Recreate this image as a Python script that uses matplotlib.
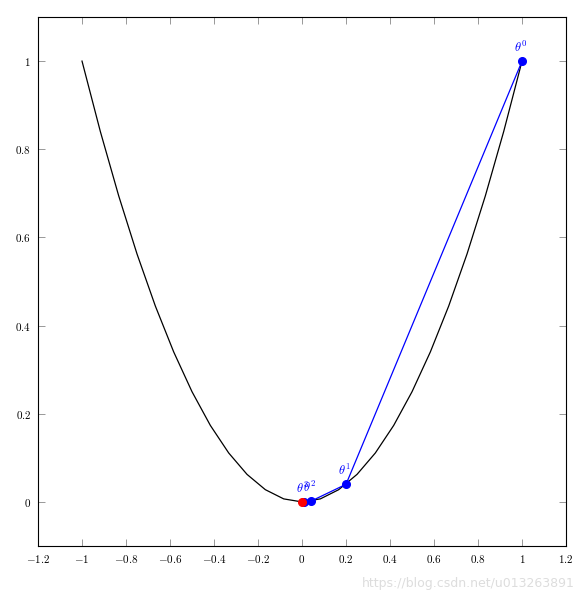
import matplotlib
matplotlib.use("Agg")
import matplotlib.pyplot as plt

plt.rcParams['mathtext.fontset'] = 'cm'
plt.rcParams['font.family'] = ['DejaVu Serif']

# parabola samples (pgfplots-style, 25 samples)
curve_x = [-1.0, -0.9167, -0.8333, -0.75, -0.6667, -0.5833, -0.5, -0.4167, -0.3333,
           -0.25, -0.1667, -0.0833, 0.0, 0.0833, 0.1667, 0.25, 0.3333, 0.4167, 0.5,
           0.5833, 0.6667, 0.75, 0.8333, 0.9167, 1.0]
curve_y = [1.0, 0.8403, 0.6944, 0.5625, 0.4444, 0.3403, 0.25, 0.1736, 0.1111,
           0.0625, 0.0278, 0.0069, 0.0, 0.0069, 0.0278, 0.0625, 0.1111, 0.1736, 0.25,
           0.3403, 0.4444, 0.5625, 0.6944, 0.8403, 1.0]

# iterates
iter_x = [1.0, 0.2, 0.04, 0.008]
iter_y = [1.0, 0.04, 0.0016, 0.000064]
iter_labels = [r'$\theta^0$', r'$\theta^1$', r'$\theta^2$', r'$\theta^3$']
opt_x = [0.0]
opt_y = [0.0]

xticks = [-1.2, -1, -0.8, -0.6, -0.4, -0.2, 0, 0.2, 0.4, 0.6, 0.8, 1, 1.2]
yticks = [0, 0.2, 0.4, 0.6, 0.8, 1]

fig = plt.figure(figsize=(5.83, 5.97), dpi=100)
ax = fig.add_axes([0.0652, 0.0854, 0.9057, 0.8861])

ax.plot(curve_x, curve_y, color='black', lw=0.9, zorder=2)
ax.plot(iter_x, iter_y, color='blue', lw=0.9, zorder=3)
ax.plot(iter_x, iter_y, 'o', color='blue', ms=5.5, zorder=4)
ax.plot(opt_x, opt_y, 'o', color='red', ms=5.5, zorder=5)
for x, y, lab in zip(iter_x, iter_y, iter_labels):
    ax.annotate(lab, (x, y), xytext=(-1, 4.5), textcoords='offset points',
                ha='center', va='bottom', color='blue', fontsize=9)

ax.set_xlim(-1.2, 1.2)
ax.set_ylim(-0.1, 1.1)
ax.set_xticks(xticks)
ax.set_yticks(yticks)

def fmt(v):
    s = ('%g' % v)
    return r'$\mathbf{%s}$' % s

ax.set_xticklabels([fmt(v) for v in xticks])
ax.set_yticklabels([fmt(v) for v in yticks])
ax.tick_params(direction='in', length=5, width=0.6, color='#888888',
               top=True, right=True, labelsize=8, pad=5)
for sp in ax.spines.values():
    sp.set_linewidth(0.8)

fig.text(0.985, 0.012, 'https://blog.csdn.net/u013263891', ha='right', va='bottom',
         color='#dddddd', fontsize=9, family='DejaVu Sans')

fig.savefig('out.png', dpi=100)
